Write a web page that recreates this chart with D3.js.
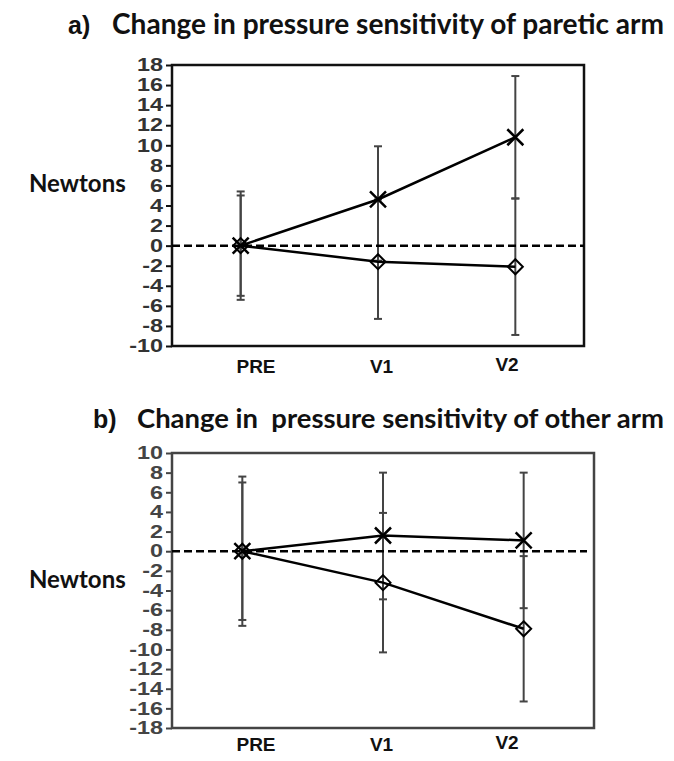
<!DOCTYPE html>
<html>
<head>
<meta charset="utf-8">
<script src="https://cdn.jsdelivr.net/npm/d3@7"></script>
<style>
  body { margin: 0; background: #fff; }
  svg { display: block; }
</style>
</head>
<body>
<div id="chart"></div>
<script>
// data
const categories = ["PRE", "V1", "V2"];

// panel a - paretic arm
const aCross = [0, 4.6, 10.8];
const aCrossPlus = [5.4, 5.3, 6.1];
const aCrossMinus = [5.4, 6.1, 6.1];
const aDiamond = [0, -1.6, -2.1];
const aDiamondPlus = [5.0, 6.2, 6.8];
const aDiamondMinus = [5.0, 5.7, 6.8];
const aTicks = [-10, -8, -6, -4, -2, 0, 2, 4, 6, 8, 10, 12, 14, 16, 18];

// panel b - other arm
const bCross = [0, 1.6, 1.1];
const bCrossPlus = [7.6, 6.4, 6.9];
const bCrossMinus = [7.6, 6.5, 6.9];
const bDiamond = [0, -3.2, -7.9];
const bDiamondPlus = [7.0, 7.1, 7.4];
const bDiamondMinus = [7.0, 7.1, 7.4];
const bTicks = [-18, -16, -14, -12, -10, -8, -6, -4, -2, 0, 2, 4, 6, 8, 10];

const svg = d3.select("#chart").append("svg")
    .attr("width", 674)
    .attr("height", 761);

function drawPanel(opt) {
    const x = d3.scalePoint()
        .domain(categories)
        .range([opt.left, opt.right])
        .padding(0.5);

    const y = d3.scaleLinear()
        .domain(d3.extent(opt.ticks))
        .range([opt.bottom, opt.top]);

    const g = svg.append("g");

    // title: letter in Arial bold, text in a Calibri-like face
    g.append("text")
        .attr("x", opt.letterX)
        .attr("y", opt.titleY)
        .style("font-family", "'Liberation Sans', Arial, sans-serif")
        .style("font-weight", "bold")
        .style("font-size", "25px")
        .attr("fill", "#111")
        .text(opt.letter);

    const title = g.append("text")
        .attr("x", opt.titleX)
        .attr("y", opt.titleY)
        .style("font-family", "Lato, 'Open Sans', sans-serif")
        .style("font-weight", "bold")
        .style("font-size", "24px")
        .style("white-space", "pre")
        .attr("fill", "#111")
        .text(opt.title);
    // fit the title to the width it has in the original
    const tw = title.node().getComputedTextLength();
    title.style("font-size", (24 * (664 - opt.titleX) / tw).toFixed(2) + "px");

    // y label
    g.append("text")
        .attr("x", 29)
        .attr("y", opt.labelY)
        .style("font-family", "Lato, 'Open Sans', sans-serif")
        .style("font-weight", "bold")
        .style("font-size", "24px")
        .attr("fill", "#111")
        .text("Newtons");

    // y axis
    const yAxis = g.append("g")
        .attr("transform", `translate(${opt.left},0)`)
        .call(d3.axisLeft(y).tickValues(opt.ticks).tickSize(6).tickPadding(3).tickFormat(d => String(d)));
    yAxis.select(".domain").remove();
    yAxis.selectAll("line").attr("stroke", opt.frame).attr("stroke-width", 2);
    yAxis.selectAll("text")
        .attr("x", 0)
        .attr("transform", "translate(-9,0) scale(1.3,1)")
        .style("font-family", "'Liberation Sans', Arial, sans-serif")
        .style("font-weight", "bold")
        .style("font-size", "18px")
        .attr("fill", opt.tickColor);

    // frame
    g.append("rect")
        .attr("x", opt.left)
        .attr("y", opt.top)
        .attr("width", opt.right - opt.left)
        .attr("height", opt.bottom - opt.top)
        .attr("fill", "none")
        .attr("stroke", opt.frame)
        .attr("stroke-width", 2.5);

    // category labels (they sit a bit off the data columns in the original)
    const lx = d3.scalePoint().domain(categories).range([256, 507]);
    g.selectAll(".cat")
        .data(categories)
        .enter().append("text")
        .attr("x", d => lx(d))
        .attr("y", (d, i) => opt.catY - (i === 2 ? 2 : 0))
        .attr("text-anchor", "middle")
        .style("font-family", "'Liberation Sans', Arial, sans-serif")
        .style("font-weight", "bold")
        .style("font-size", "19px")
        .attr("fill", "#111")
        .text(d => d);

    const series = [
        { vals: opt.cross, plus: opt.crossPlus, minus: opt.crossMinus, shape: "x" },
        { vals: opt.diamond, plus: opt.diamondPlus, minus: opt.diamondMinus, shape: "d" }
    ];

    // error bars
    series.forEach(s => {
        const eb = g.append("g").attr("stroke", "#444").attr("stroke-width", 2);
        categories.forEach((c, i) => {
            const hi = y(s.vals[i] + s.plus[i]);
            const lo = y(s.vals[i] - s.minus[i]);
            eb.append("line").attr("x1", x(c)).attr("x2", x(c)).attr("y1", hi).attr("y2", lo);
            eb.append("line").attr("x1", x(c) - 4).attr("x2", x(c) + 4).attr("y1", hi).attr("y2", hi);
            eb.append("line").attr("x1", x(c) - 4).attr("x2", x(c) + 4).attr("y1", lo).attr("y2", lo);
        });
    });

    // zero line
    g.append("line")
        .attr("x1", opt.left)
        .attr("x2", opt.dashEnd)
        .attr("y1", y(0))
        .attr("y2", y(0))
        .attr("stroke", "#000")
        .attr("stroke-width", 2.5)
        .attr("stroke-dasharray", "8,4");

    const line = d3.line()
        .x((d, i) => x(categories[i]))
        .y(d => y(d));

    series.forEach(s => {
        g.append("path")
            .attr("d", line(s.vals))
            .attr("fill", "none")
            .attr("stroke", "#000")
            .attr("stroke-width", 2.5);

        g.selectAll(null)
            .data(s.vals)
            .enter().append("path")
            .attr("transform", (d, i) => `translate(${x(categories[i])},${y(d)})`)
            .attr("d", s.shape === "x" ? "M-8,-8L8,8M-8,8L8,-8" : "M0,-7.5L7.5,0L0,7.5L-7.5,0Z")
            .attr("fill", "none")
            .attr("stroke", "#000")
            .attr("stroke-width", s.shape === "x" ? 2.5 : 2);
    });
}

drawPanel({
    letter: "a)", title: "Change in pressure sensitivity of paretic arm",
    letterX: 68, titleX: 112, titleY: 34, labelY: 192,
    left: 172, right: 584, top: 65, bottom: 346, dashEnd: 584,
    ticks: aTicks, frame: "#111", tickColor: "#333", catY: 373,
    cross: aCross, crossPlus: aCrossPlus, crossMinus: aCrossMinus,
    diamond: aDiamond, diamondPlus: aDiamondPlus, diamondMinus: aDiamondMinus
});

drawPanel({
    letter: "b)", title: "Change in  pressure sensitivity of other arm",
    letterX: 93, titleX: 137, titleY: 428, labelY: 588,
    left: 172, right: 594, top: 453, bottom: 728, dashEnd: 587,
    ticks: bTicks, frame: "#444", tickColor: "#444", catY: 751,
    cross: bCross, crossPlus: bCrossPlus, crossMinus: bCrossMinus,
    diamond: bDiamond, diamondPlus: bDiamondPlus, diamondMinus: bDiamondMinus
});
</script>
</body>
</html>
